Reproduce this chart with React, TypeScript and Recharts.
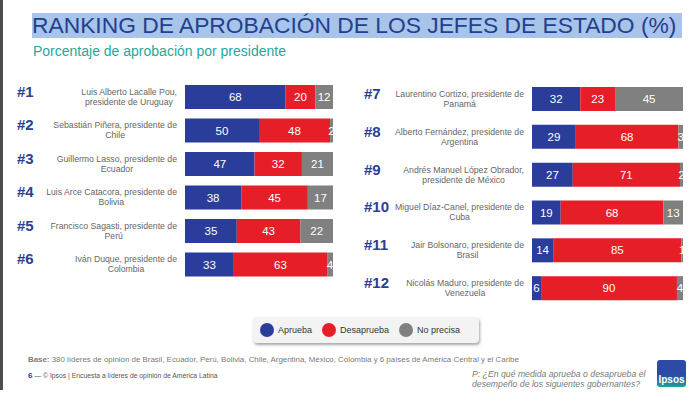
import React from 'react';
import { Bar, BarChart, LabelList, Legend, XAxis, YAxis } from 'recharts';

const leftRanks = ['#1', '#2', '#3', '#4', '#5', '#6'];
const leftLine1 = [
  'Luis Alberto Lacalle Pou,',
  'Sebastián Piñera, presidente de',
  'Guillermo Lasso, presidente de',
  'Luis Arce Catacora, presidente de',
  'Francisco Sagasti, presidente de',
  'Iván Duque, presidente de',
];
const leftLine2 = ['presidente de Uruguay', 'Chile', 'Ecuador', 'Bolivia', 'Perú', 'Colombia'];
const leftAprueba = [68, 50, 47, 38, 35, 33];
const leftDesaprueba = [20, 48, 32, 45, 43, 63];
const leftNoPrecisa = [12, 2, 21, 17, 22, 4];

const rightRanks = ['#7', '#8', '#9', '#10', '#11', '#12'];
const rightLine1 = [
  'Laurentino Cortizo, presidente de',
  'Alberto Fernández, presidente de',
  'Andrés Manuel López Obrador,',
  'Miguel Díaz-Canel, presidente de',
  'Jair Bolsonaro, presidente de',
  'Nicolás Maduro, presidente de',
];
const rightLine2 = ['Panamá', 'Argentina', 'presidente de México', 'Cuba', 'Brasil', 'Venezuela'];
const rightAprueba = [32, 29, 27, 19, 14, 6];
const rightDesaprueba = [23, 68, 71, 68, 85, 90];
const rightNoPrecisa = [45, 3, 2, 13, 1, 4];

const legendItems = [
  { label: 'Aprueba', color: '#2b3d9b' },
  { label: 'Desaprueba', color: '#e61e28' },
  { label: 'No precisa', color: '#808080' },
];

const FONT = '"Liberation Sans", Arial, sans-serif';
const NAME_SIZE = 8.7;

let canvas: HTMLCanvasElement | null = null;
function textWidth(s: string, size: number) {
  if (!canvas) canvas = document.createElement('canvas');
  const ctx = canvas.getContext('2d')!;
  ctx.font = `${size}px "Liberation Sans"`;
  return ctx.measureText(s).width;
}

function build(ranks: string[], a: number[], d: number[], n: number[]) {
  return ranks.map((rank, i) => ({ rank, aprueba: a[i], desaprueba: d[i], noPrecisa: n[i] }));
}

function makeTick(ranks: string[], line1: string[], line2: string[]) {
  return function NameTick(props: any) {
    const { x, y, payload } = props;
    const i = ranks.indexOf(payload.value);
    const w1 = textWidth(line1[i], NAME_SIZE);
    const c = x - w1 / 2;
    return (
      <g>
        <text x={x - 160} y={y} fill="#2b3f95" fontSize={15} fontWeight="bold" fontFamily={FONT}>
          {payload.value}
        </text>
        <text x={x} y={y - 2} textAnchor="end" fill="#666" fontSize={NAME_SIZE} fontFamily={FONT}>
          {line1[i]}
        </text>
        <text x={c} y={y + 8} textAnchor="middle" fill="#666" fontSize={NAME_SIZE} fontFamily={FONT}>
          {line2[i]}
        </text>
      </g>
    );
  };
}

function LegendBox() {
  return (
    <div
      style={{
        width: 226,
        height: 26,
        boxSizing: 'border-box',
        background: '#f3f3f3',
        borderRadius: 4,
        boxShadow: '1px 2px 3px rgba(0,0,0,0.35)',
        display: 'flex',
        alignItems: 'center',
        paddingLeft: 7,
        fontFamily: FONT,
        fontSize: 9,
        color: '#333',
      }}
    >
      {legendItems.map((it) => (
        <span key={it.label} style={{ display: 'flex', alignItems: 'center', marginRight: 10 }}>
          <span
            style={{ width: 14, height: 14, borderRadius: 7, background: it.color, display: 'inline-block', marginRight: 4 }}
          />
          {it.label}
        </span>
      ))}
    </div>
  );
}

function Panel({
  ranks,
  line1,
  line2,
  a,
  d,
  n,
  width,
  axisWidth,
  legend,
}: {
  ranks: string[];
  line1: string[];
  line2: string[];
  a: number[];
  d: number[];
  n: number[];
  width: number;
  axisWidth: number;
  legend?: boolean;
}) {
  const data = build(ranks, a, d, n);
  const label = { fill: '#fff', fontSize: 11.5, fontFamily: FONT };
  return (
    <BarChart
      width={width}
      height={407}
      data={data}
      layout="vertical"
      margin={{ top: 80, right: 16, bottom: 100, left: 0 }}
    >
      <XAxis type="number" domain={[0, 100]} hide />
      <YAxis
        type="category"
        dataKey="rank"
        width={axisWidth}
        axisLine={false}
        tickLine={false}
        tick={makeTick(ranks, line1, line2)}
      />
      {legend && (
        <Legend
          content={() => <LegendBox />}
          wrapperStyle={{ position: 'absolute', left: 253, top: 317, width: 226 }}
        />
      )}
      <Bar dataKey="aprueba" stackId="s" fill="#2b3d9b" barSize={24} isAnimationActive={false}>
        <LabelList dataKey="aprueba" position="center" style={label} />
      </Bar>
      <Bar dataKey="desaprueba" stackId="s" fill="#e61e28" barSize={24} isAnimationActive={false}>
        <LabelList dataKey="desaprueba" position="center" style={label} />
      </Bar>
      <Bar dataKey="noPrecisa" stackId="s" fill="#808080" barSize={24} isAnimationActive={false}>
        <LabelList dataKey="noPrecisa" position="center" style={label} />
      </Bar>
    </BarChart>
  );
}

export default function App() {
  return (
    <div
      style={{
        position: 'absolute',
        left: 0,
        top: 0,
        width: 699,
        height: 407,
        background: '#fff',
        fontFamily: FONT,
        overflow: 'hidden',
      }}
    >
      <div style={{ position: 'absolute', left: 0, top: 0, width: 3, height: 390, background: '#4d4d4d' }} />
      <div
        style={{
          position: 'absolute',
          left: 32,
          top: 13,
          width: 650,
          height: 25,
          background: '#a8c4e8',
          color: '#23408f',
          fontSize: 22.8,
          lineHeight: '25px',
          whiteSpace: 'nowrap',
        }}
      >
        RANKING DE APROBACIÓN DE LOS JEFES DE ESTADO (%)
      </div>
      <div
        style={{ position: 'absolute', left: 33, top: 43, fontSize: 14, color: '#27a79b', whiteSpace: 'nowrap' }}
      >
        Porcentaje de aprobación por presidente
      </div>

      <div style={{ position: 'absolute', left: 0, top: 0 }}>
        <Panel
          ranks={leftRanks}
          line1={leftLine1}
          line2={leftLine2}
          a={leftAprueba}
          d={leftDesaprueba}
          n={leftNoPrecisa}
          width={349}
          axisWidth={185}
          legend
        />
      </div>
      <div style={{ position: 'absolute', left: 349, top: 0 }}>
        <Panel
          ranks={rightRanks}
          line1={rightLine1}
          line2={rightLine2}
          a={rightAprueba}
          d={rightDesaprueba}
          n={rightNoPrecisa}
          width={350}
          axisWidth={183}
        />
      </div>

      <div style={{ position: 'absolute', left: 28, top: 355, fontSize: 7.9, color: '#7a7a7a', whiteSpace: 'nowrap' }}>
        <b>Base:</b> 380 líderes de opinión de Brasil, Ecuador, Perú, Bolivia, Chile, Argentina, México, Colombia y 6
        países de América Central y el Caribe
      </div>
      <div style={{ position: 'absolute', left: 28, top: 371, fontSize: 6.8, color: '#555', whiteSpace: 'nowrap' }}>
        <b style={{ color: '#2b3f95', fontSize: 8 }}>6</b> — © Ipsos | Encuesta a líderes de opinión de América Latina
      </div>
      <div
        style={{
          position: 'absolute',
          left: 472,
          top: 369,
          fontSize: 8.7,
          lineHeight: '10px',
          fontStyle: 'italic',
          color: '#7a7a7a',
          whiteSpace: 'nowrap',
        }}
      >
        P: ¿En qué medida aprueba o desaprueba el
        <br />
        desempeño de los siguientes gobernantes?
      </div>
      <div
        style={{
          position: 'absolute',
          left: 657,
          top: 360,
          width: 29,
          height: 27,
          borderRadius: 3,
          background: 'linear-gradient(#2d4aa6 0%, #2d4aa6 55%, #1fa39a 100%)',
          color: '#fff',
          fontSize: 10,
          fontWeight: 'bold',
          display: 'flex',
          alignItems: 'flex-end',
          justifyContent: 'center',
          paddingBottom: 2,
          boxSizing: 'border-box',
        }}
      >
        Ipsos
      </div>
    </div>
  );
}
